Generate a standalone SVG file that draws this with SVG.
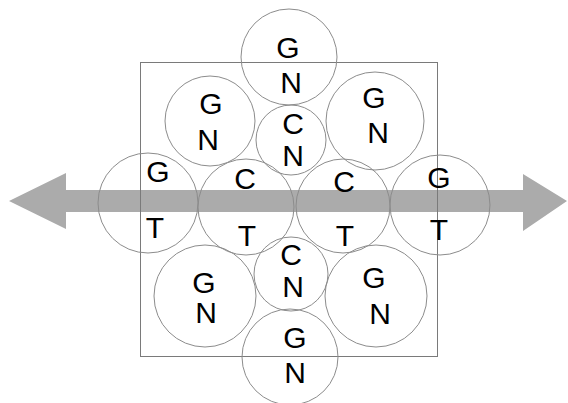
<svg xmlns="http://www.w3.org/2000/svg" width="568" height="403" viewBox="0 0 568 403">
<style>
.c{fill:none;stroke:#8c8c8c;stroke-width:1}
.t{font-family:"Liberation Sans",Arial,sans-serif;font-size:30px;fill:#000;text-anchor:middle}
</style>
<rect width="568" height="403" fill="#fff"/>
<g id="connectors">
<polygon id="arrow" points="9,201 66,173 66,190 523,190 523,174 567,201 523,231 523,212 66,212 66,229" fill="#ababab"/>
</g>
<rect id="frame" x="140.5" y="62.5" width="297" height="294" fill="none" stroke="#7a7a7a" stroke-width="1"/>
<g id="n1"><circle class="c" cx="289" cy="57" r="48"/><text class="t" x="288" y="58">G</text><text class="t" x="291" y="93">N</text></g>
<g id="n2"><circle class="c" cx="210" cy="121" r="45"/><text class="t" x="211" y="114">G</text><text class="t" x="208" y="150">N</text></g>
<g id="n3"><circle class="c" cx="375" cy="121" r="49"/><text class="t" x="374" y="108">G</text><text class="t" x="378" y="143">N</text></g>
<g id="n4"><circle class="c" cx="291" cy="140" r="35"/><text class="t" x="293" y="134">C</text><text class="t" x="293" y="166">N</text></g>
<g id="n5"><circle class="c" cx="148" cy="203" r="50"/><text class="t" x="158" y="182">G</text><text class="t" x="155" y="238">T</text></g>
<g id="n6"><circle class="c" cx="246" cy="207" r="48"/><text class="t" x="245" y="189">C</text><text class="t" x="247" y="246">T</text></g>
<g id="n7"><circle class="c" cx="343" cy="206" r="47"/><text class="t" x="344" y="192">C</text><text class="t" x="345" y="246">T</text></g>
<g id="n8"><circle class="c" cx="440" cy="205" r="50"/><text class="t" x="439" y="188">G</text><text class="t" x="439" y="240">T</text></g>
<g id="n9"><circle class="c" cx="205" cy="296" r="51"/><text class="t" x="204" y="293">G</text><text class="t" x="206" y="323">N</text></g>
<g id="n10"><circle class="c" cx="291" cy="274" r="37"/><text class="t" x="291" y="265">C</text><text class="t" x="293" y="297">N</text></g>
<g id="n11"><circle class="c" cx="376" cy="296" r="51"/><text class="t" x="374" y="288">G</text><text class="t" x="380" y="324">N</text></g>
<g id="n12"><circle class="c" cx="290" cy="357" r="48"/><text class="t" x="295" y="348">G</text><text class="t" x="295" y="383">N</text></g>
</svg>
